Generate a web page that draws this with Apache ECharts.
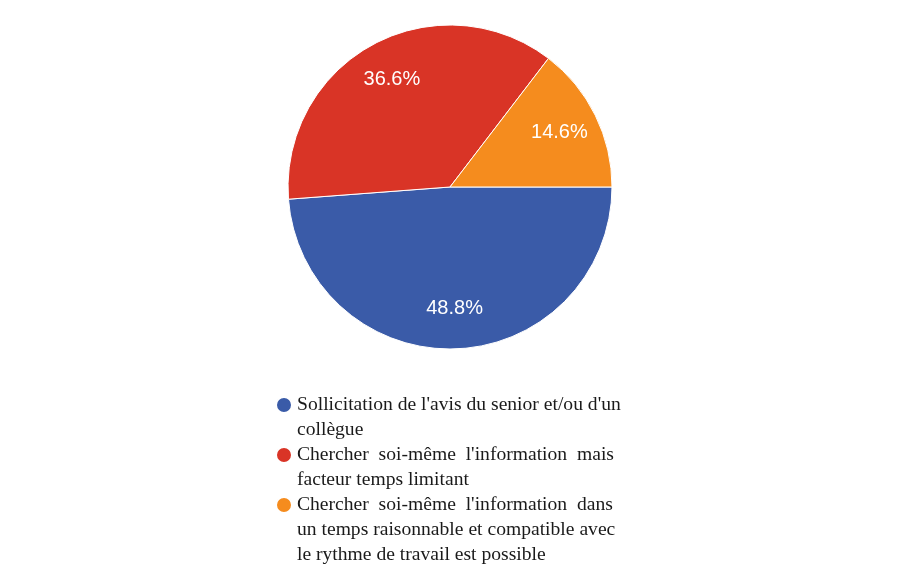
<!DOCTYPE html>
<html>
<head>
<meta charset="utf-8">
<script src="https://cdn.jsdelivr.net/npm/echarts@6/dist/echarts.min.js"></script>
<style>
  html, body { margin: 0; padding: 0; background: #fff; }
  #main { width: 908px; height: 583px; }
</style>
</head>
<body>
<div id="main"></div>
<script>
var chart = echarts.init(document.getElementById('main'));

// answers and their share (%)
var names = [
  "Sollicitation de l'avis du senior et/ou d'un collègue",
  "Chercher soi-même l'information mais facteur temps limitant",
  "Chercher soi-même l'information dans un temps raisonnable et compatible avec le rythme de travail est possible"
];
// legend text broken the same way as the picture (wider gaps mimic the justified lines)
var wrapped = [
  "Sollicitation de l'avis du senior et/ou d'un\ncollègue",
  "Chercher  soi-même  l'information  mais\nfacteur temps limitant",
  "Chercher  soi-même  l'information  dans\nun temps raisonnable et compatible avec\nle rythme de travail est possible"
];
var values = [48.8, 36.6, 14.6];
var colors = ['#3a5ba8', '#d93426', '#f58c1e'];

var pieData = names.map(function (n, i) {
  return { name: n, value: values[i] };
});

var lineH = 25;
var iconY = [405, 455, 505];

// legend text is centred on the icon, so blank lines are put in front
// to bring the first real line level with the dot
var legends = names.map(function (n, i) {
  var nLines = wrapped[i].split('\n').length;
  var lead = new Array(nLines).join(' \n');
  return {
    orient: 'vertical',
    left: 275,
    top: iconY[i] - (2 * nLines - 1) * lineH / 2,
    padding: 0,
    icon: 'circle',
    itemWidth: 16,
    itemHeight: 16,
    selectedMode: false,
    data: [n],
    formatter: function () { return lead + wrapped[i]; },
    textStyle: {
      fontFamily: 'Liberation Serif',
      fontSize: 19.6,
      lineHeight: lineH,
      color: '#1a1a1a'
    }
  };
});

var option = {
  color: colors,
  animation: false,
  legend: legends,
  series: [
    {
      name: 'pie',
      type: 'pie',
      center: [450, 187],
      radius: 162,
      startAngle: 0,
      clockwise: true,
      silent: true,
      itemStyle: { borderColor: '#fff', borderWidth: 1 },
      label: { show: false },
      labelLine: { show: false },
      data: pieData
    },
    {
      // same slices, only used to place the percent labels further out
      name: 'labels',
      type: 'pie',
      center: [450, 187],
      radius: [76, 162],
      startAngle: 0,
      clockwise: true,
      silent: true,
      itemStyle: { color: 'rgba(0,0,0,0)' },
      label: {
        show: true,
        position: 'inside',
        formatter: function (p) { return p.value.toFixed(1) + '%'; },
        color: '#fff',
        fontFamily: 'Liberation Sans',
        fontSize: 20
      },
      labelLine: { show: false },
      data: pieData
    }
  ]
};

chart.setOption(option);
</script>
</body>
</html>
